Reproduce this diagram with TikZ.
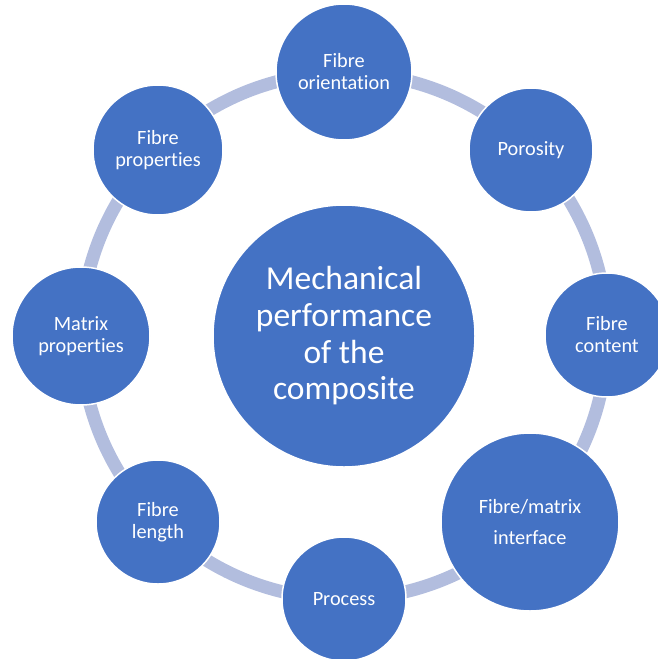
\documentclass[tikz,border=0pt]{standalone}
\usepackage{fontspec}
\setmainfont{Carlito}[RawFeature={-liga;-clig;-calt;-dlig}]
\definecolor{bubble}{RGB}{68,114,196}
\definecolor{ringblue}{RGB}{178,189,222}
\tikzset{
  bubble/.style={circle, fill=bubble, draw=white, line width=1.5pt, text=white,
    align=center, inner sep=0pt, font=\fontsize{20.3}{22}\selectfont},
  ring/.style={ringblue, line width=13pt}
}
\begin{document}
\begin{tikzpicture}[x=1pt,y=-1pt]
        \path[use as bounding box, clip] (0,0) rectangle (658,659);

        % Ring behind the factors
        \coordinate (mid) at (344,336);
        \draw[ring] (mid) circle[radius=263pt];

        % Centre
        \node[bubble, minimum size=262pt, font=\fontsize{33.5}{36.7}\selectfont] (hub) at (mid)
            {Mechanical\\performance\\of the\\composite};

        % Factors round the ring
        \node[bubble, minimum size=136pt] (orient) at (344,72) {Fibre\\orientation};
        \node[bubble, minimum size=124pt] (poros) at (531,150) {Porosity};
        \node[bubble, minimum size=124pt] (content) at (607,335) {Fibre\\content};
        \node[bubble, minimum size=178pt, font=\fontsize{20.3}{31}\selectfont] (iface) at (530,522) {Fibre/matrix\\interface};
        \node[bubble, minimum size=124pt] (proc) at (344,599) {Process};
        \node[bubble, minimum size=124pt] (length) at (158,522) {Fibre\\length};
        \node[bubble, minimum size=138pt] (matrix) at (81,336) {Matrix\\properties};
        \node[bubble, minimum size=130pt] (fprop) at (158,150) {Fibre\\properties};
\end{tikzpicture}
\end{document}
